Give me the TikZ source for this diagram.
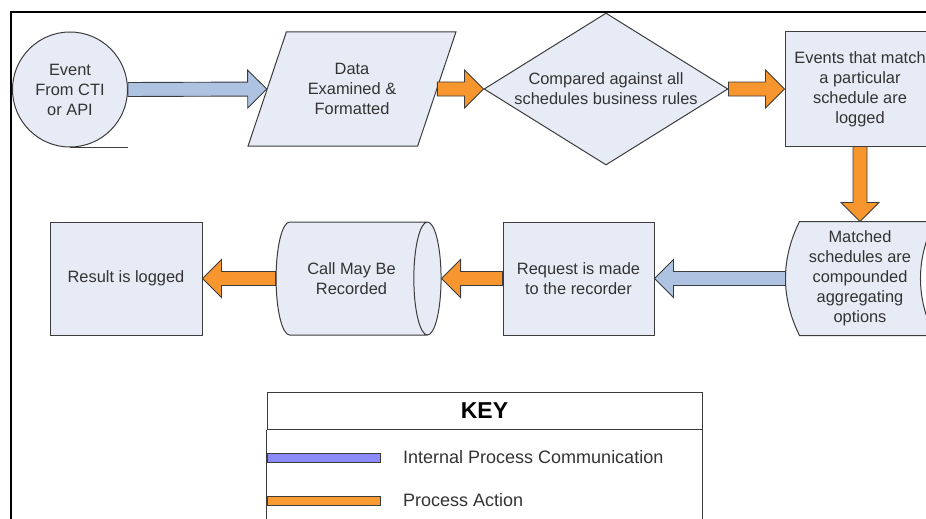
\documentclass[tikz,border=0pt]{standalone}
\usepackage{fontspec}
\setmainfont{Liberation Sans}
\usetikzlibrary{shapes.geometric,calc,backgrounds}
\definecolor{nodefill}{HTML}{E6EBF5}
\definecolor{edgec}{HTML}{3C3C3C}
\definecolor{arrblue}{HTML}{AEC2E2}
\definecolor{arrorange}{HTML}{F7962E}
\definecolor{keyblue}{HTML}{8A8AF8}
\definecolor{keyorange}{HTML}{FA9A32}
\definecolor{txt}{HTML}{333333}
\begin{document}
\begin{tikzpicture}[x=1pt,y=-1pt,
  box/.style={draw=edgec, fill=nodefill, line width=1pt, text=txt,
    font=\fontsize{16.4}{20}\selectfont, align=center, inner sep=0pt},
  blk/.style={draw=edgec, line width=0.9pt, fill=#1,
    to path={let \p1=(\tikztostart), \p2=(\tikztotarget),
      \p3=($(\p2)!19pt!(\p1)$) in
      ($(\p1)!7pt!90:(\p2)$) -- ($(\p3)!7pt!90:(\p2)$) -- ($(\p3)!19pt!90:(\p2)$)
      -- (\p2) -- ($(\p3)!19pt!-90:(\p2)$) -- ($(\p3)!7pt!-90:(\p2)$)
      -- ($(\p1)!7pt!-90:(\p2)$) -- cycle}},
  keybar/.style={draw=edgec, fill=#1, minimum width=113pt, minimum height=9pt,
    inner sep=0pt, line width=0.8pt},
  keytext/.style={anchor=west, inner sep=0pt, text=txt,
    font=\fontsize{18}{18}\selectfont}
]
\useasboundingbox (0,0) rectangle (926,519);
\clip (0,0) rectangle (926,519);

% frame
\draw[line width=2.5pt, black] (940,12) -- (11,12) -- (11,530);

% row 1
\node[box, circle, minimum size=115pt] (a) at (70,89.5) {Event\\From CTI\\or API};
\draw[edgec, line width=1pt] (a.south) -- (a.south -| a.east);
\node[box, trapezium, trapezium left angle=63.4, trapezium right angle=116.6,
  trapezium stretches=true, minimum width=208pt, minimum height=114pt]
  (b) at (352,89) {Data\\Examined \&\\Formatted};
\node[box, diamond, aspect=1.6, minimum width=244pt, minimum height=152pt]
  (c) at (606,89) {Compared against all\\schedules business rules};
\node[box, minimum width=150pt, minimum height=114pt] (d) at (860,89)
  {Events that match\\a particular\\schedule are\\logged};

% row 2
\node[box, draw=none, fill=none, minimum width=134pt, minimum height=113pt]
  (m) at (860,278.5) {Matched\\schedules are\\compounded\\aggregating\\options};
\begin{scope}[on background layer]
\draw[draw=edgec, fill=nodefill, line width=1pt]
  ($(m.north west)+(7,0)$) -- ($(m.north east)+(7,0)$)
  .. controls +(-18.7,37.7) and +(-18.7,-37.7) .. ($(m.south east)+(7,0)$)
  -- ($(m.south west)+(7,0)$)
  .. controls +(-18.7,-37.7) and +(-18.7,37.7) .. ($(m.north west)+(7,0)$) -- cycle;
\end{scope}
\coordinate (mw) at ($(m.west)+(-7,0)$);
\node[box, minimum width=151pt, minimum height=113pt] (r) at (578.5,278.5)
  {Request is made\\to the recorder};
\node[box, cylinder, shape aspect=0.85, minimum width=113pt, minimum height=165pt]
  (k) at (351.5,278.5) {Call May Be\\Recorded};
\node[box, minimum width=152pt, minimum height=113pt] (l) at (126,278.5)
  {Result is logged};

% connectors
\draw[blk=arrblue] (a.east) to (b.west);
\draw[blk=arrorange] (b.east) to (c.west);
\draw[blk=arrorange] (c.east) to (d.west);
\draw[blk=arrorange] (d.south) to (m.north);
\draw[blk=arrblue] (mw) to (r.east);
\draw[blk=arrorange] (r.west) to (k.east);
\draw[blk=arrorange] (k.west) to (l.east);

% key
\node[draw=edgec, line width=1pt, minimum width=435pt, minimum height=37pt,
  inner sep=0pt, font=\bfseries\fontsize{23}{23}\selectfont] (key) at (484.5,410.5) {KEY};
\draw[edgec, line width=1pt] (key.south west) -- ++(0,120);
\draw[edgec, line width=1pt] (key.south east) -- ++(0,120);
\node[keybar=keyblue] (kb) at (323.5,457.5) {};
\node[keybar=keyorange] (ko) at (323.5,500.5) {};
\node[keytext] (kbl) at (403,457) {Internal Process Communication};
\node[keytext] (kol) at (403,500) {Process Action};
\end{tikzpicture}
\end{document}
